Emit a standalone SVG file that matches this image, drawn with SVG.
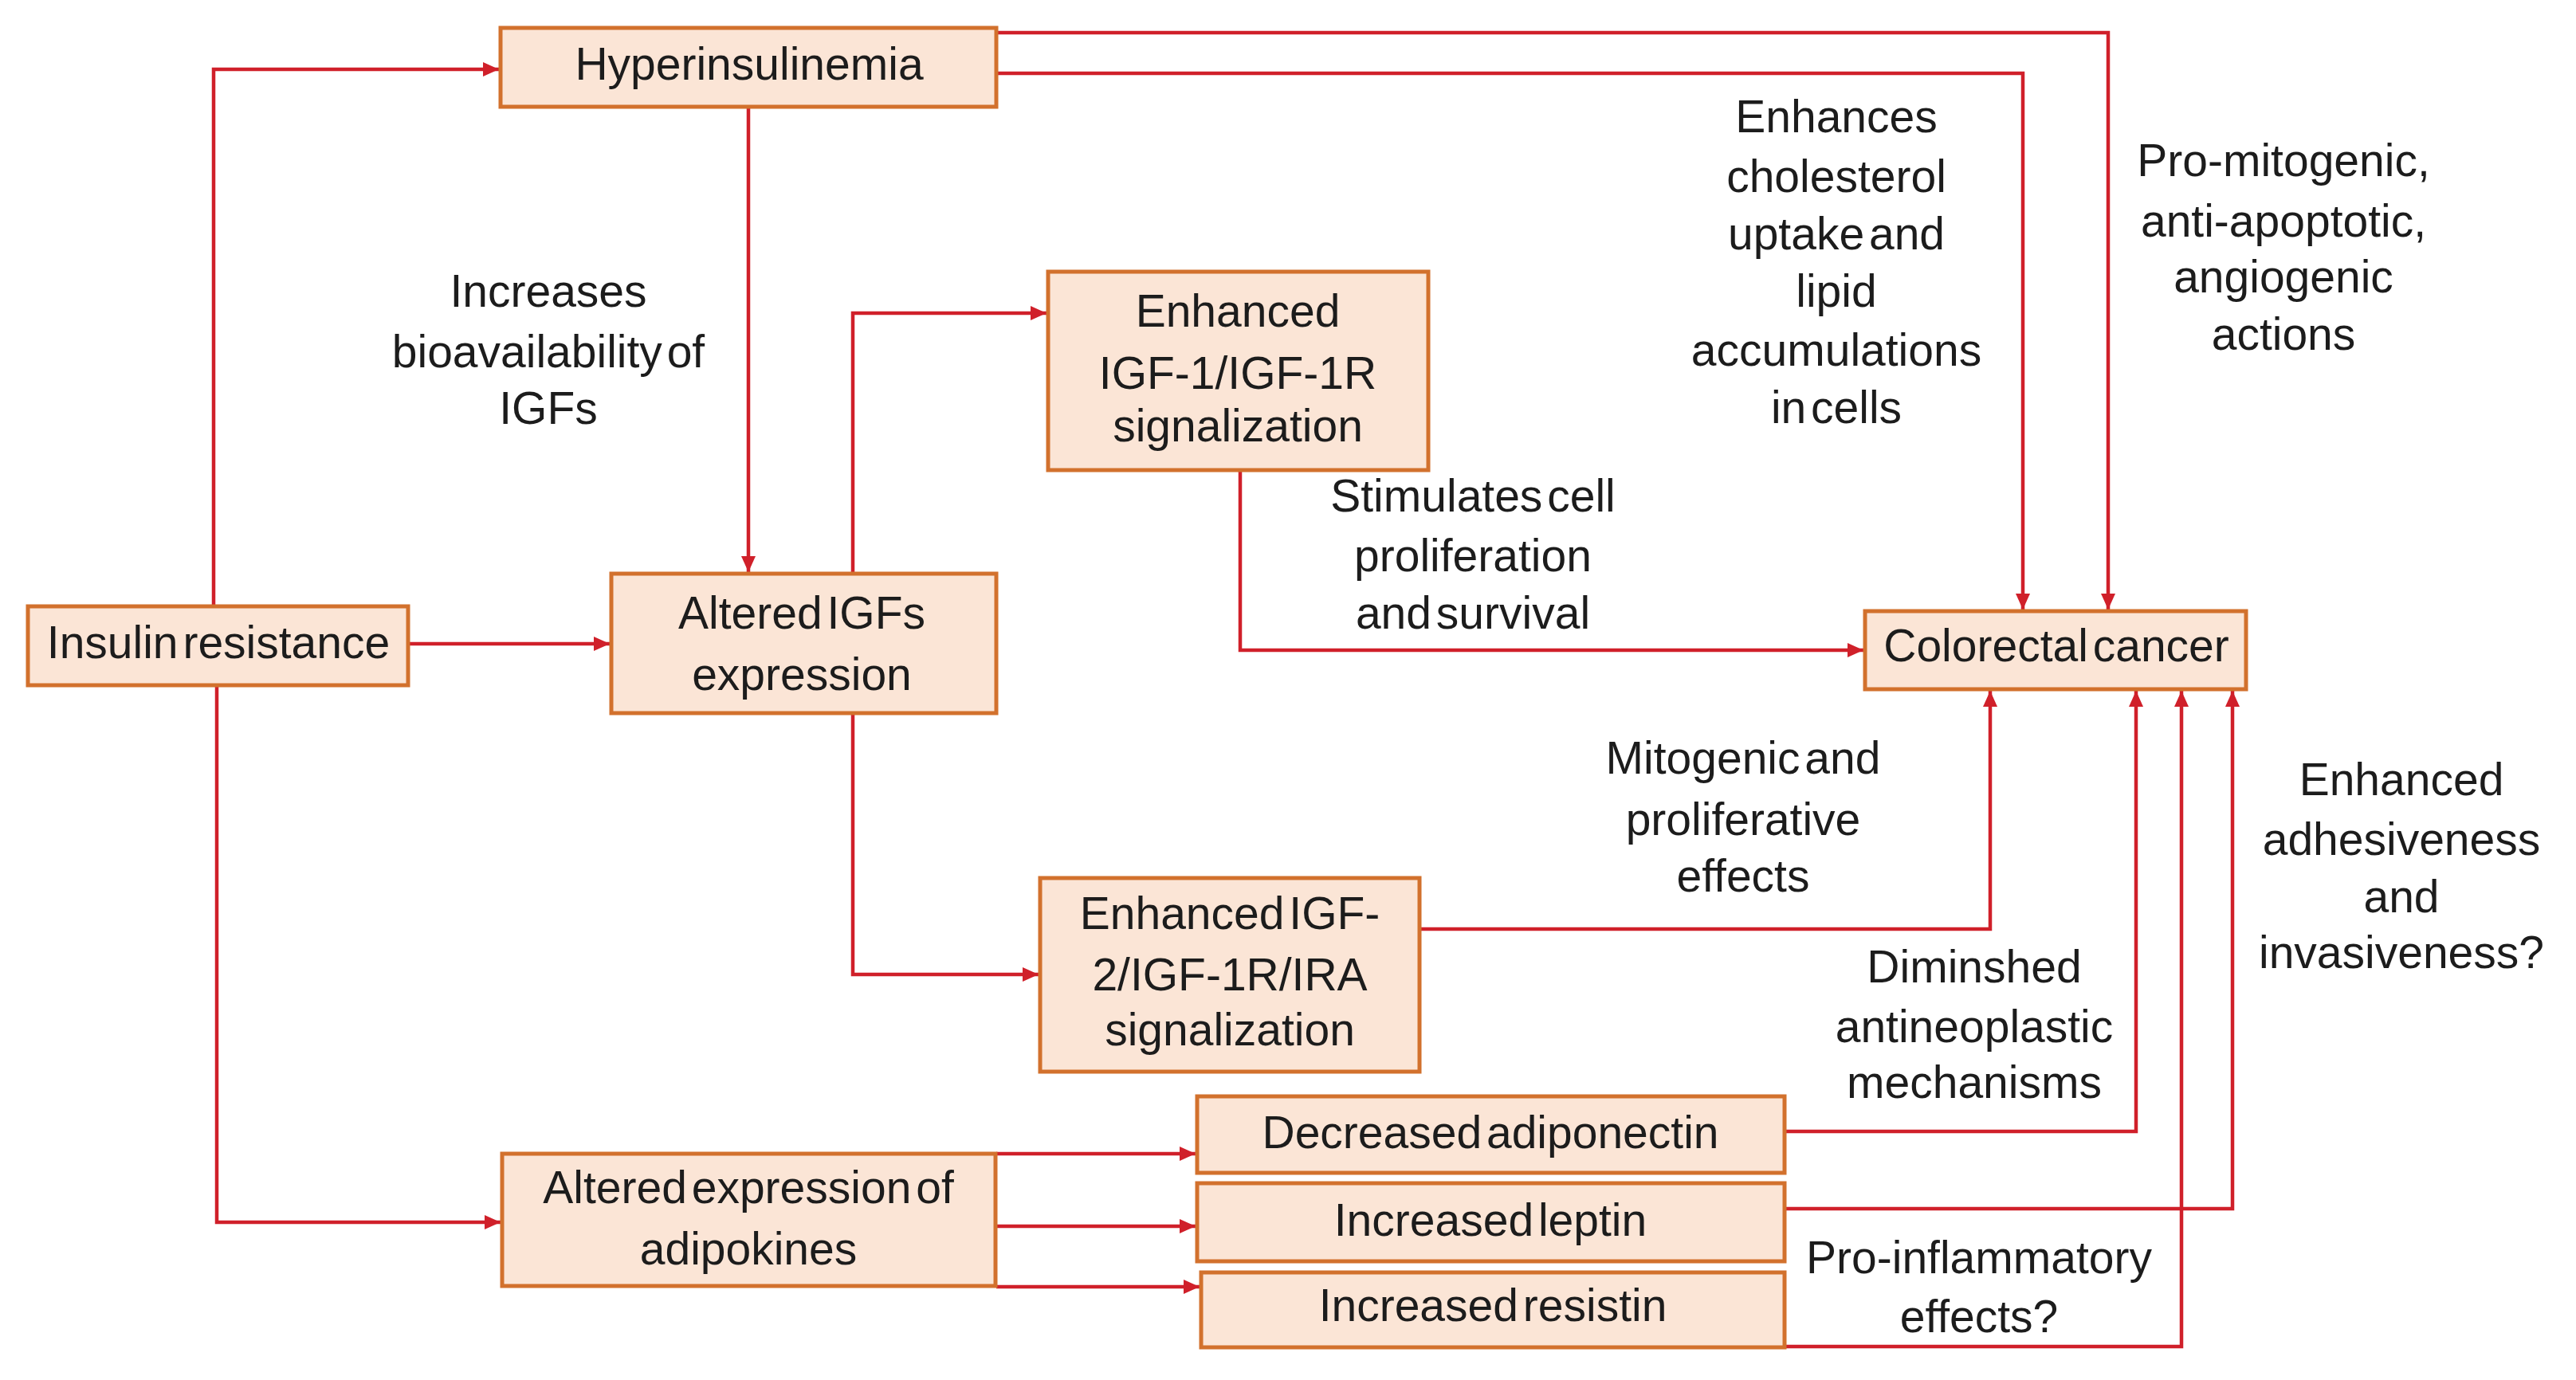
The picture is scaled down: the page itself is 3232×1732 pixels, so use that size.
<svg xmlns="http://www.w3.org/2000/svg" width="3232" height="1732" viewBox="0 0 3232 1732">
<style>
.box{fill:#FBE5D6;stroke:#D2712D;stroke-width:5}
.lbl{font-family:"Liberation Sans",Arial,sans-serif;font-size:57px;fill:#1c1c1c;text-anchor:middle;word-spacing:-10px}
.c{fill:none;stroke:#D0202A;stroke-width:4.5;marker-end:url(#ah)}
</style>
<defs>
<marker id="ah" markerUnits="userSpaceOnUse" markerWidth="22" markerHeight="20" refX="20" refY="9" orient="auto">
<path d="M0,0 L20,9 L0,18 z" fill="#D0202A"/>
</marker>
</defs>
<rect width="3232" height="1732" fill="#ffffff"/>
<g id="connectors">
<path class="c" d="M268,761 V87 H626"/>
<path class="c" d="M512,808 H765"/>
<path class="c" d="M272,861 V1534 H628"/>
<path class="c" d="M939,134 V718"/>
<path class="c" d="M1250,41 H2645 V765"/>
<path class="c" d="M1250,92 H2538 V765"/>
<path class="c" d="M1070,720 V393 H1313"/>
<path class="c" d="M1070,895 V1223 H1303"/>
<path class="c" d="M1556,590 V816 H2338"/>
<path class="c" d="M1781,1166 H2497 V867"/>
<path class="c" d="M2239,1420 H2680 V867"/>
<path class="c" d="M2239,1517 H2801 V867"/>
<path class="c" d="M2239,1690 H2737 V867"/>
<path class="c" d="M1250,1448 H1500"/>
<path class="c" d="M1250,1539 H1500"/>
<path class="c" d="M1250,1615 H1505"/>
</g>
<g id="hyperinsulinemia"><rect class="box" x="628" y="35" width="622" height="99"/><text class="lbl" x="940" y="100">Hyperinsulinemia</text></g>
<g id="insulin-resistance"><rect class="box" x="35" y="761" width="477" height="99"/><text class="lbl" x="274" y="826">Insulin resistance</text></g>
<g id="altered-igfs"><rect class="box" x="767" y="720" width="483" height="175"/><text class="lbl" x="1006" y="789">Altered IGFs</text><text class="lbl" x="1006" y="866">expression</text></g>
<g id="igf1"><rect class="box" x="1315" y="341" width="477" height="249"/><text class="lbl" x="1553" y="410">Enhanced</text><text class="lbl" x="1553" y="488">IGF-1/IGF-1R</text><text class="lbl" x="1553" y="554">signalization</text></g>
<g id="colorectal-cancer"><rect class="box" x="2340" y="767" width="478" height="98"/><text class="lbl" x="2580" y="830">Colorectal cancer</text></g>
<g id="igf2"><rect class="box" x="1305" y="1102" width="476" height="243"/><text class="lbl" x="1543" y="1166">Enhanced IGF-</text><text class="lbl" x="1543" y="1243">2/IGF-1R/IRA</text><text class="lbl" x="1543" y="1312">signalization</text></g>
<g id="adipokines"><rect class="box" x="630" y="1448" width="619" height="166"/><text class="lbl" x="939" y="1510">Altered expression of</text><text class="lbl" x="939" y="1587">adipokines</text></g>
<g id="adiponectin"><rect class="box" x="1502" y="1376" width="737" height="96"/><text class="lbl" x="1870" y="1441">Decreased adiponectin</text></g>
<g id="leptin"><rect class="box" x="1502" y="1485" width="737" height="98"/><text class="lbl" x="1870" y="1551">Increased leptin</text></g>
<g id="resistin"><rect class="box" x="1507" y="1597" width="732" height="94"/><text class="lbl" x="1873" y="1658">Increased resistin</text></g>
<g id="labels">
<text class="lbl" x="688" y="385">Increases</text>
<text class="lbl" x="688" y="461">bioavailability of</text>
<text class="lbl" x="688" y="532">IGFs</text>
<text class="lbl" x="2304" y="166">Enhances</text>
<text class="lbl" x="2304" y="241">cholesterol</text>
<text class="lbl" x="2304" y="313">uptake and</text>
<text class="lbl" x="2304" y="385">lipid</text>
<text class="lbl" x="2304" y="459">accumulations</text>
<text class="lbl" x="2304" y="531">in cells</text>
<text class="lbl" x="2865" y="221">Pro-mitogenic,</text>
<text class="lbl" x="2865" y="297">anti-apoptotic,</text>
<text class="lbl" x="2865" y="367">angiogenic</text>
<text class="lbl" x="2865" y="439">actions</text>
<text class="lbl" x="1848" y="642">Stimulates cell</text>
<text class="lbl" x="1848" y="717">proliferation</text>
<text class="lbl" x="1848" y="789">and survival</text>
<text class="lbl" x="2187" y="971">Mitogenic and</text>
<text class="lbl" x="2187" y="1048">proliferative</text>
<text class="lbl" x="2187" y="1119">effects</text>
<text class="lbl" x="2477" y="1233">Diminshed</text>
<text class="lbl" x="2477" y="1308">antineoplastic</text>
<text class="lbl" x="2477" y="1378">mechanisms</text>
<text class="lbl" x="3013" y="998">Enhanced</text>
<text class="lbl" x="3013" y="1073">adhesiveness</text>
<text class="lbl" x="3013" y="1145">and</text>
<text class="lbl" x="3013" y="1215">invasiveness?</text>
<text class="lbl" x="2483" y="1598">Pro-inflammatory</text>
<text class="lbl" x="2483" y="1672">effects?</text>
</g>
</svg>
